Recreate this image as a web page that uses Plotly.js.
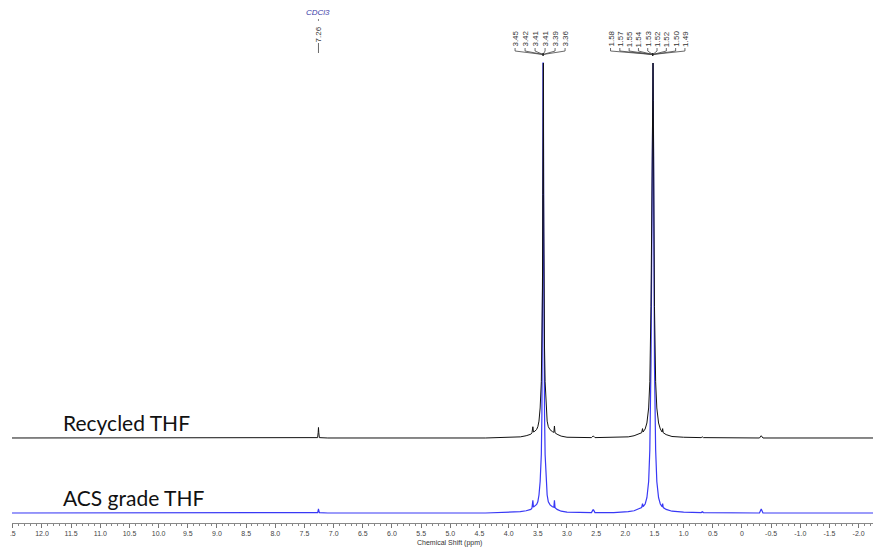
<!DOCTYPE html>
<html>
<head>
<meta charset="utf-8">
<script src="https://cdn.plot.ly/plotly-3.0.1.min.js"></script>
<style>html,body{margin:0;padding:0;background:#fff}#chart{width:875px;height:548px}</style>
</head>
<body>
<div id="chart"></div>
<script>
// ---- DATA ----
const recycledPpm = [12.6, 7.40, 7.275, 7.265, 7.26, 7.255, 7.245, 7.10, 4.40, 4.00, 3.80, 3.70, 3.62, 3.60, 3.585, 3.575, 3.55, 3.52, 3.50, 3.48, 3.46, 3.44, 3.43, 3.42, 3.415, 3.412, 3.405, 3.40, 3.395, 3.385, 3.375, 3.36, 3.34, 3.32, 3.29, 3.25, 3.225, 3.215, 3.205, 3.17, 3.10, 3.00, 2.80, 2.58, 2.555, 2.545, 2.52, 2.20, 1.95, 1.85, 1.78, 1.72, 1.705, 1.695, 1.66, 1.63, 1.60, 1.58, 1.56, 1.55, 1.54, 1.535, 1.525, 1.52, 1.51, 1.50, 1.48, 1.46, 1.43, 1.40, 1.37, 1.36, 1.35, 1.30, 1.20, 1.00, 0.70, 0.68, 0.66, -0.30, -0.33, -0.36, -2.4];
const recycledInt = [0, 0, 0.001, 0.015, 0.028, 0.015, 0.001, 0, 0, 0.001, 0.003, 0.006, 0.010, 0.014, 0.030, 0.016, 0.018, 0.023, 0.030, 0.045, 0.08, 0.15, 0.24, 0.40, 0.65, 1.0, 1.0, 0.65, 0.40, 0.24, 0.15, 0.08, 0.045, 0.030, 0.022, 0.017, 0.015, 0.032, 0.014, 0.010, 0.005, 0.002, 0.001, 0.001, 0.005, 0.005, 0.001, 0.001, 0.003, 0.006, 0.010, 0.014, 0.025, 0.016, 0.024, 0.040, 0.08, 0.15, 0.35, 0.6, 0.9, 1.0, 1.0, 0.9, 0.6, 0.35, 0.15, 0.08, 0.040, 0.024, 0.016, 0.025, 0.014, 0.009, 0.004, 0.002, 0.001, 0.003, 0.001, 0, 0.006, 0, 0];

const acsPpm = [12.6, 7.40, 7.275, 7.265, 7.26, 7.255, 7.245, 7.10, 4.40, 4.00, 3.80, 3.70, 3.62, 3.60, 3.585, 3.575, 3.55, 3.52, 3.50, 3.48, 3.46, 3.44, 3.43, 3.42, 3.415, 3.412, 3.405, 3.40, 3.395, 3.385, 3.375, 3.36, 3.34, 3.32, 3.29, 3.25, 3.225, 3.215, 3.205, 3.17, 3.10, 3.00, 2.80, 2.58, 2.555, 2.545, 2.52, 2.20, 1.95, 1.85, 1.78, 1.72, 1.705, 1.695, 1.66, 1.63, 1.60, 1.58, 1.56, 1.55, 1.54, 1.535, 1.525, 1.52, 1.51, 1.50, 1.48, 1.46, 1.43, 1.40, 1.37, 1.36, 1.35, 1.30, 1.20, 1.00, 0.70, 0.68, 0.66, -0.30, -0.33, -0.36, -2.4];
const acsInt = [0, 0, 0.001, 0.005, 0.009, 0.005, 0.001, 0, 0, 0.001, 0.003, 0.005, 0.008, 0.011, 0.028, 0.013, 0.015, 0.019, 0.025, 0.040, 0.07, 0.13, 0.22, 0.38, 0.62, 1.0, 1.0, 0.62, 0.38, 0.22, 0.13, 0.07, 0.040, 0.025, 0.018, 0.014, 0.013, 0.028, 0.012, 0.008, 0.004, 0.002, 0.001, 0.001, 0.007, 0.007, 0.001, 0.001, 0.003, 0.005, 0.009, 0.012, 0.021, 0.014, 0.020, 0.034, 0.07, 0.14, 0.33, 0.58, 0.9, 1.0, 1.0, 0.9, 0.58, 0.33, 0.14, 0.07, 0.034, 0.020, 0.014, 0.021, 0.012, 0.008, 0.004, 0.002, 0.001, 0.003, 0.001, 0, 0.009, 0, 0];

const tickVals = [12.5, 12.0, 11.5, 11.0, 10.5, 10.0, 9.5, 9.0, 8.5, 8.0, 7.5, 7.0, 6.5, 6.0, 5.5, 5.0, 4.5, 4.0, 3.5, 3.0, 2.5, 2.0, 1.5, 1.0, 0.5, 0, -0.5, -1.0, -1.5, -2.0];
const tickText = [".5", "12.0", "11.5", "11.0", "10.5", "10.0", "9.5", "9.0", "8.5", "8.0", "7.5", "7.0", "6.5", "6.0", "5.5", "5.0", "4.5", "4.0", "3.5", "3.0", "2.5", "2.0", "1.5", "1.0", "0.5", "0", "-0.5", "-1.0", "-1.5", "-2.0"];

const solventLabel = "CDCl3";
const solventPpm = 7.26;
const mult1Center = 3.41;
const mult1Labels = ["3.45", "3.42", "3.41", "3.41", "3.39", "3.36"];
const mult2Center = 1.53;
const mult2Labels = ["1.58", "1.57", "1.55", "1.54", "1.53", "1.52", "1.52", "1.50", "1.49"];
const seriesNames = ["Recycled THF", "ACS grade THF"];

// ---- LAYOUT HELPERS ----
const annotations = [];
const shapes = [];
const labelFont = {family: "Liberation Sans, Arial, sans-serif", size: 8, color: "#333"};

function multiplet(center, labels, spacing, xOffset, labelMid) {
  const n = labels.length;
  labels.forEach((t, i) => {
    const dx = xOffset + (i - (n - 1) / 2) * spacing;
    annotations.push({
      x: center, xref: "x", xshift: dx,
      y: 1, yref: "paper", yshift: -labelMid,
      text: t, textangle: -90, showarrow: false,
      xanchor: "center", yanchor: "middle", font: labelFont
    });
    shapes.push({
      type: "path", xref: "x", yref: "paper", xsizemode: "pixel", ysizemode: "pixel",
      xanchor: center, yanchor: 1,
      path: `M ${dx} -48 L ${dx} -51 L 0 -54.5`,
      line: {color: "#444", width: 0.8}
    });
  });
  shapes.push({
    type: "line", xref: "x", yref: "paper", xsizemode: "pixel", ysizemode: "pixel",
    xanchor: center, yanchor: 1, x0: 0, x1: 0, y0: -53, y1: -56,
    line: {color: "#222", width: 1.5}
  });
}
multiplet(mult1Center, mult1Labels, 10, -3, 38.5);
multiplet(mult2Center, mult2Labels, 9.3, -5, 39);

// solvent label
annotations.push({
  x: solventPpm, xref: "x", y: 1, yref: "paper", yshift: -12,
  text: "<i>" + solventLabel + "</i>", showarrow: false, xanchor: "center", yanchor: "middle",
  font: {family: "Liberation Sans, Arial, sans-serif", size: 8, color: "#3b3ba8"}
});
annotations.push({
  x: solventPpm, xref: "x", y: 1, yref: "paper", yshift: -34,
  text: solventPpm.toFixed(2), textangle: -90, showarrow: false,
  xanchor: "center", yanchor: "middle", font: labelFont
});
shapes.push({
  type: "line", xref: "x", yref: "paper", xsizemode: "pixel", ysizemode: "pixel",
  xanchor: solventPpm, yanchor: 1, x0: 0, x1: 0, y0: -43, y1: -53,
  line: {color: "#444", width: 0.8}
});
shapes.push({
  type: "line", xref: "x", yref: "paper", xsizemode: "pixel", ysizemode: "pixel",
  xanchor: solventPpm, yanchor: 1, x0: 0, x1: 0, y0: -19, y1: -21,
  line: {color: "#666", width: 0.8}
});

// series labels
const seriesFont = {family: "Lato, Carlito, Calibri, sans-serif", size: 21, color: "#111"};
annotations.push({x: (61 - 12) / 861, xref: "paper", xanchor: "left", y: 1 - 422 / 523, yref: "paper", yanchor: "middle",
  text: seriesNames[0], showarrow: false, font: seriesFont});
annotations.push({x: (61 - 12) / 861, xref: "paper", xanchor: "left", y: 1 - 497 / 523, yref: "paper", yanchor: "middle",
  text: seriesNames[1], showarrow: false, font: seriesFont});

// axis title
annotations.push({x: 0.5087, xref: "paper", y: 0, yref: "paper", yshift: -20, yanchor: "middle",
  text: "Chemical Shift (ppm)", showarrow: false,
  font: {family: "Liberation Sans, Arial, sans-serif", size: 7, color: "#333"}});

const traces = [
  {x: acsPpm, y: acsInt, type: "scatter", mode: "lines", yaxis: "y",
   line: {color: "#3838f5", width: 1.2}, name: seriesNames[1], hoverinfo: "skip"},
  {x: recycledPpm, y: recycledInt, type: "scatter", mode: "lines", yaxis: "y2",
   line: {color: "#111111", width: 1}, name: seriesNames[0], hoverinfo: "skip"}
];

const layout = {
  width: 875, height: 548,
  margin: {l: 12, r: 2, t: 0, b: 25},
  paper_bgcolor: "#fff", plot_bgcolor: "#fff",
  showlegend: false,
  xaxis: {
    range: [12.514, -2.246], showgrid: false, zeroline: false,
    showline: true, linecolor: "#888", linewidth: 1,
    ticks: "outside", ticklen: 4, tickwidth: 1, tickcolor: "#777",
    tickmode: "array", tickvals: tickVals, ticktext: tickText,
    tickfont: {family: "Liberation Sans, Arial, sans-serif", size: 7, color: "#444"},
    minor: {tickmode: "linear", tick0: 0, dtick: 0.1, ticks: "outside", ticklen: 2, tickcolor: "#888", showgrid: false}
  },
  yaxis: {range: [-0.0222, 1.14], visible: false, fixedrange: true},
  yaxis2: {range: [-0.2267, 1.168], visible: false, overlaying: "y"},
  annotations: annotations,
  shapes: shapes
};

Plotly.newPlot("chart", traces, layout, {staticPlot: true, displayModeBar: false});
</script>
</body>
</html>
